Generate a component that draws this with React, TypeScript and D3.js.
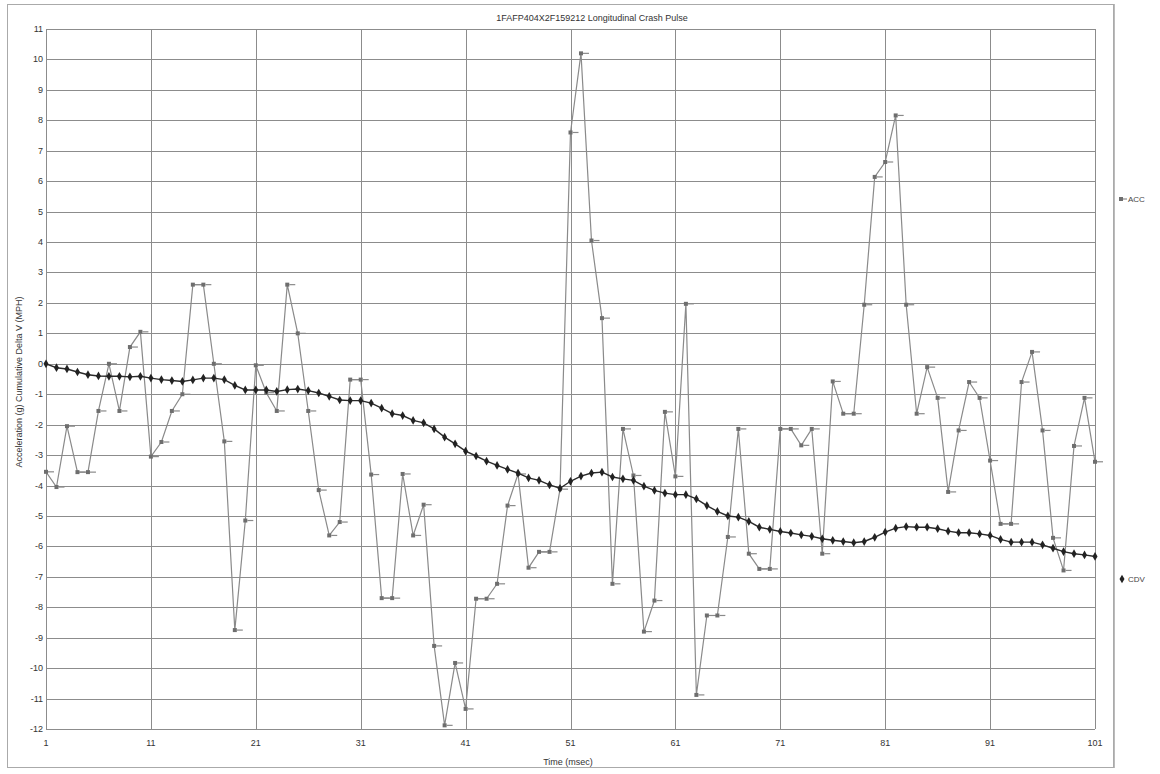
import React, { useEffect, useRef } from "react";
import * as d3 from "d3";

const times: number[] = d3.range(1, 102);

const acc: number[] = [
  -3.55, -4.05, -2.05, -3.56, -3.56, -1.55, 0, -1.55, 0.55, 1.05,
  -3.05, -2.57, -1.55, -1.0, 2.6, 2.6, 0, -2.55, -8.75, -5.15,
  -0.05, -0.95, -1.55, 2.6, 1.0, -1.55, -4.15, -5.64, -5.2, -0.52,
  -0.52, -3.64, -7.7, -7.7, -3.62, -5.64, -4.63, -9.27, -11.88, -9.83,
  -11.34, -7.72, -7.72, -7.23, -4.66, -3.62, -6.7, -6.18, -6.18, -4.12,
  7.6, 10.2, 4.05, 1.5, -7.23, -2.14, -3.67, -8.8, -7.78, -1.58,
  -3.7, 1.97, -10.88, -8.27, -8.27, -5.69, -2.14, -6.24, -6.74, -6.74,
  -2.14, -2.14, -2.68, -2.14, -6.24, -0.58, -1.64, -1.64, 1.94, 6.14,
  6.63, 8.16, 1.94, -1.64, -0.11, -1.12, -4.21, -2.19, -0.6, -1.12,
  -3.18, -5.26, -5.26, -0.6, 0.39, -2.19, -5.72, -6.79, -2.7, -1.12,
  -3.22,
];

const cdv: number[] = [
  0, -0.13, -0.17, -0.27, -0.36, -0.4, -0.41, -0.41, -0.43, -0.41,
  -0.47, -0.52, -0.55, -0.58, -0.53, -0.47, -0.47, -0.52, -0.71, -0.86,
  -0.86, -0.86, -0.91, -0.85, -0.83, -0.88, -0.96, -1.07, -1.19, -1.21,
  -1.21, -1.29, -1.46, -1.64, -1.7, -1.86, -1.94, -2.14, -2.41, -2.63,
  -2.87, -3.03, -3.2, -3.34, -3.47, -3.59, -3.75, -3.83, -3.98, -4.09,
  -3.86, -3.69, -3.59, -3.56, -3.72, -3.78, -3.83, -4.02, -4.16, -4.25,
  -4.3, -4.3, -4.44, -4.66, -4.85, -5.0, -5.04, -5.18, -5.37, -5.44,
  -5.51, -5.56, -5.62, -5.67, -5.75, -5.8, -5.84, -5.88, -5.84, -5.7,
  -5.53, -5.4, -5.35, -5.37, -5.37, -5.42, -5.5, -5.55, -5.55, -5.59,
  -5.64, -5.77, -5.86, -5.86, -5.86, -5.95, -6.06, -6.17, -6.24, -6.28,
  -6.33,
];

const xTicks: number[] = [1, 11, 21, 31, 41, 51, 61, 71, 81, 91, 101];
const yTicks: number[] = d3.range(-12, 12);

const title = "1FAFP404X2F159212  Longitudinal Crash Pulse";
const xTitle = "Time (msec)";
const yTitle = "Acceleration (g)   Cumulative Delta V (MPH)";

export default function App() {
  const ref = useRef<SVGSVGElement>(null);

  useEffect(() => {
    if (!ref.current) return;
    const svg = d3.select(ref.current);
    svg.selectAll("*").remove();

    const margin = { top: 29, right: 65, bottom: 45, left: 46 };
    const W = 1160;
    const H = 774;

    const x = d3.scaleLinear().domain([1, 101]).range([margin.left, W - margin.right]);
    const y = d3.scaleLinear().domain([-12, 11]).range([H - margin.bottom, margin.top]);

    const font = "'Liberation Sans', Arial, sans-serif";

    svg.append("rect").attr("width", W).attr("height", H).attr("fill", "#fff");

    // outer chart frame
    svg
      .append("rect")
      .attr("x", 7.5)
      .attr("y", 4.5)
      .attr("width", 1106)
      .attr("height", 763)
      .attr("fill", "none")
      .attr("stroke", "#aaa");

    // grid
    const grid = svg.append("g").attr("stroke", "#8c8c8c").attr("stroke-width", 1);
    grid
      .selectAll("line.h")
      .data(yTicks)
      .enter()
      .append("line")
      .attr("x1", x(1))
      .attr("x2", x(101))
      .attr("y1", (d) => Math.round(y(d)) + 0.5)
      .attr("y2", (d) => Math.round(y(d)) + 0.5);
    grid
      .selectAll("line.v")
      .data(xTicks)
      .enter()
      .append("line")
      .attr("y1", y(11))
      .attr("y2", y(-12))
      .attr("x1", (d) => Math.round(x(d)) + 0.5)
      .attr("x2", (d) => Math.round(x(d)) + 0.5);

    // axis labels
    svg
      .append("g")
      .selectAll("text")
      .data(yTicks)
      .enter()
      .append("text")
      .attr("x", x(1) - 3)
      .attr("y", (d) => y(d) + 3)
      .attr("text-anchor", "end")
      .style("font-family", font)
      .style("font-size", "9px")
      .style("fill", "#333")
      .text((d) => d);

    svg
      .append("g")
      .selectAll("text")
      .data(xTicks)
      .enter()
      .append("text")
      .attr("x", (d) => x(d))
      .attr("y", y(-12) + 17)
      .attr("text-anchor", "middle")
      .style("font-family", font)
      .style("font-size", "9px")
      .style("fill", "#333")
      .text((d) => d);

    svg
      .append("text")
      .attr("x", 592)
      .attr("y", 21)
      .attr("text-anchor", "middle")
      .style("font-family", font)
      .style("font-size", "9px")
      .style("fill", "#333")
      .text(title);

    svg
      .append("text")
      .attr("x", 568)
      .attr("y", 765)
      .attr("text-anchor", "middle")
      .style("font-family", font)
      .style("font-size", "9px")
      .style("fill", "#333")
      .text(xTitle);

    svg
      .append("text")
      .attr("transform", `translate(22,382) rotate(-90)`)
      .attr("text-anchor", "middle")
      .style("font-family", font)
      .style("font-size", "9px")
      .style("fill", "#333")
      .text(yTitle);

    // ACC series
    const accLine = d3
      .line<number>()
      .x((_, i) => x(times[i]))
      .y((d) => y(d));
    svg
      .append("path")
      .datum(acc)
      .attr("d", accLine)
      .attr("fill", "none")
      .attr("stroke", "#8a8a8a")
      .attr("stroke-width", 1.2);

    const accMarks = svg
      .append("g")
      .selectAll("g")
      .data(acc)
      .enter()
      .append("g")
      .attr("transform", (d, i) => `translate(${x(times[i])},${y(d)})`);
    accMarks
      .append("rect")
      .attr("x", -2)
      .attr("y", -2)
      .attr("width", 4)
      .attr("height", 4)
      .attr("fill", "#6e6e6e");
    accMarks
      .append("line")
      .attr("x1", 2)
      .attr("x2", 8)
      .attr("y1", 0)
      .attr("y2", 0)
      .attr("stroke", "#8a8a8a")
      .attr("stroke-width", 1.2);

    // CDV series
    const cdvLine = d3
      .line<number>()
      .x((_, i) => x(times[i]))
      .y((d) => y(d));
    svg
      .append("path")
      .datum(cdv)
      .attr("d", cdvLine)
      .attr("fill", "none")
      .attr("stroke", "#2a2a2a")
      .attr("stroke-width", 1.4);

    const diamond = d3.symbol().type(d3.symbolDiamond).size(22);
    svg
      .append("g")
      .selectAll("path")
      .data(cdv)
      .enter()
      .append("path")
      .attr("d", diamond)
      .attr("transform", (d, i) => `translate(${x(times[i])},${y(d)})`)
      .attr("fill", "#222");

    // legend
    svg
      .append("line")
      .attr("x1", 1114.5)
      .attr("x2", 1114.5)
      .attr("y1", 4)
      .attr("y2", 768)
      .attr("stroke", "#bbb");

    const lg1 = svg.append("g").attr("transform", "translate(1121,199)");
    lg1.append("rect").attr("x", -2).attr("y", -2).attr("width", 4).attr("height", 4).attr("fill", "#6e6e6e");
    lg1.append("line").attr("x1", 2).attr("x2", 6).attr("stroke", "#8a8a8a").attr("stroke-width", 1.2);
    lg1
      .append("text")
      .attr("x", 7)
      .attr("y", 3)
      .style("font-family", font)
      .style("font-size", "8px")
      .style("fill", "#444")
      .text("ACC");

    const lg2 = svg.append("g").attr("transform", "translate(1122,579)");
    lg2.append("path").attr("d", diamond).attr("fill", "#222");
    lg2
      .append("text")
      .attr("x", 6)
      .attr("y", 3)
      .style("font-family", font)
      .style("font-size", "8px")
      .style("fill", "#444")
      .text("CDV");
  }, []);

  return (
    <svg
      ref={ref}
      width={1160}
      height={774}
      style={{ position: "absolute", left: 0, top: 0, display: "block" }}
    />
  );
}
